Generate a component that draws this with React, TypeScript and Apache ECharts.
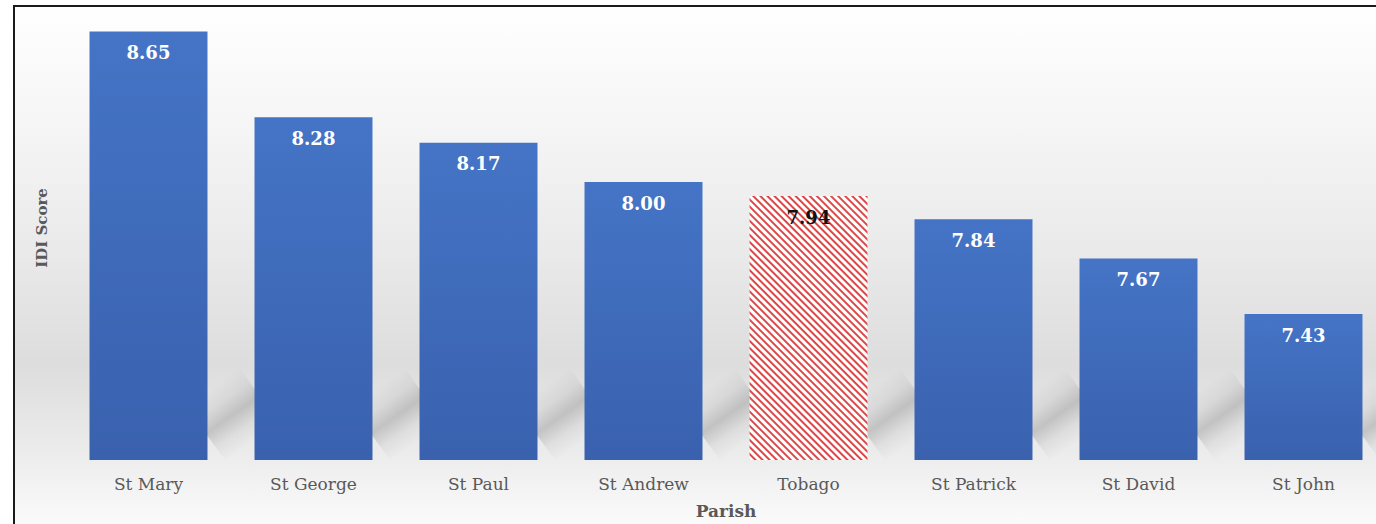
import React, { useEffect, useRef } from "react";
import * as echarts from "echarts";

const parishes = ["St Mary", "St George", "St Paul", "St Andrew", "Tobago", "St Patrick", "St David", "St John"];
const idiScores = [8.65, 8.28, 8.17, 8.0, 7.94, 7.84, 7.67, 7.43];
const highlighted = "Tobago";
const yAxisName = "IDI Score";
const xAxisName = "Parish";

const SERIF = "'DejaVu Serif', 'Liberation Serif', serif";
const Y_MIN = 6.8;
const Y_MAX = 8.7;
const BAR_RATIO = 0.715;

export default function App() {
  const ref = useRef<HTMLDivElement>(null);
  useEffect(() => {
    if (!ref.current) return;
    const chart = echarts.init(ref.current, null, { renderer: "svg" });
    const blue = new echarts.graphic.LinearGradient(0, 0, 0, 1, [
      { offset: 0, color: "#4574c6" },
      { offset: 1, color: "#3961ae" },
    ]);
    const data = parishes.map((p, i) => {
      if (p === highlighted) {
        return {
          value: idiScores[i],
          itemStyle: {
            color: "#ffffff",
            decal: {
              symbol: "rect",
              symbolSize: 1,
              color: "rgba(214,40,40,0.85)",
              dashArrayX: [1, 0],
              dashArrayY: [2, 3],
              rotation: Math.PI / 4,
            },
          },
          label: { color: "#111111" },
        };
      }
      return { value: idiScores[i] };
    });
    chart.setOption({
      animation: false,
      backgroundColor: "#ffffff",
      graphic: [
        {
          type: "rect",
          z: -10,
          silent: true,
          shape: { x: 14, y: 6, width: 1400, height: 560 },
          style: {
            fill: new echarts.graphic.LinearGradient(0, 0, 0, 1, [
              { offset: 0, color: "#ffffff" },
              { offset: 0.2, color: "#f6f6f6" },
              { offset: 0.45, color: "#e9e9e9" },
              { offset: 0.64, color: "#dddddd" },
              { offset: 0.8, color: "#ececec" },
              { offset: 0.92, color: "#fafafa" },
              { offset: 1, color: "#ffffff" },
            ]),
          },
        },
        {
          type: "rect",
          z: 100,
          silent: true,
          shape: { x: 14, y: 6, width: 1400, height: 600 },
          style: { fill: "none", stroke: "#1a1a1a", lineWidth: 2 },
        },
        {
          type: "text",
          z: 50,
          silent: true,
          x: 42,
          y: 228,
          rotation: Math.PI / 2,
          style: {
            text: yAxisName,
            fill: "#595959",
            font: "bold 15px " + SERIF,
            align: "center",
            verticalAlign: "middle",
          },
        },
      ],
      grid: { left: 66, top: 20, right: 4, height: 441 },
      xAxis: {
        type: "category",
        data: parishes,
        axisLine: { show: false },
        axisTick: { show: false },
        axisLabel: {
          color: "#595959",
          fontFamily: SERIF,
          fontSize: 17,
          margin: 15,
        },
        name: xAxisName,
        nameLocation: "middle",
        nameGap: 42,
        nameTextStyle: {
          color: "#595959",
          fontFamily: SERIF,
          fontSize: 17,
          fontWeight: "bold",
        },
      },
      yAxis: {
        type: "value",
        min: Y_MIN,
        max: Y_MAX,
        axisLine: { show: false },
        axisTick: { show: false },
        axisLabel: { show: false },
        splitLine: { show: false },
      },
      series: [
        {
          type: "custom",
          z: 1,
          silent: true,
          clip: false,
          data: idiScores.map((v, i) => [i, v]),
          encode: { x: 0, y: 1 },
          renderItem: (params: any, api: any) => {
            const idx = api.value(0);
            const base = api.coord([idx, Y_MIN]);
            const band = api.size([1, 0])[0];
            const xR = base[0] + (band * BAR_RATIO) / 2;
            const yB = base[1];
            // soft diagonal shadow band to the right of each bar
            const ax = xR - 2, ay = yB - 26;
            const bx = xR + 52, by = yB - 64;
            const dx = bx - ax, dy = by - ay;
            const len = Math.sqrt(dx * dx + dy * dy);
            const nx = -dy / len, ny = dx / len;
            const nX = nx * (ny < 0 ? -1 : 1), nY = Math.abs(ny);
            const h = 34;
            const mx = (ax + bx) / 2, my = (ay + by) / 2;
            return {
              type: "polygon",
              shape: {
                points: [
                  [ax - nX * h, ay - nY * h],
                  [bx - nX * h, by - nY * h],
                  [bx + nX * h, Math.min(by + nY * h, yB)],
                  [ax + nX * h, Math.min(ay + nY * h, yB)],
                ],
              },
              style: {
                fill: new echarts.graphic.LinearGradient(
                  mx - nX * h, my - nY * h, mx + nX * h, my + nY * h,
                  [
                    { offset: 0, color: "rgba(120,120,120,0)" },
                    { offset: 0.25, color: "rgba(120,120,120,0.1)" },
                    { offset: 0.5, color: "rgba(120,120,120,0.33)" },
                    { offset: 0.75, color: "rgba(120,120,120,0.1)" },
                    { offset: 1, color: "rgba(120,120,120,0)" },
                  ],
                  true
                ),
              },
            };
          },
        },
        {
          type: "bar",
          z: 2,
          data,
          barCategoryGap: ((1 - BAR_RATIO) * 100).toFixed(1) + "%",
          itemStyle: { color: blue },
          label: {
            show: true,
            position: "insideTop",
            distance: 12,
            color: "#ffffff",
            fontFamily: SERIF,
            fontSize: 18,
            fontWeight: "bold",
            formatter: (p: any) => Number(p.value).toFixed(2),
          },
        },
      ],
    });
    return () => chart.dispose();
  }, []);
  return (
    <div style={{ position: "absolute", left: 0, top: 0, width: 1376, height: 524, overflow: "hidden" }}>
      <div ref={ref} style={{ width: 1390, height: 524 }} />
    </div>
  );
}
